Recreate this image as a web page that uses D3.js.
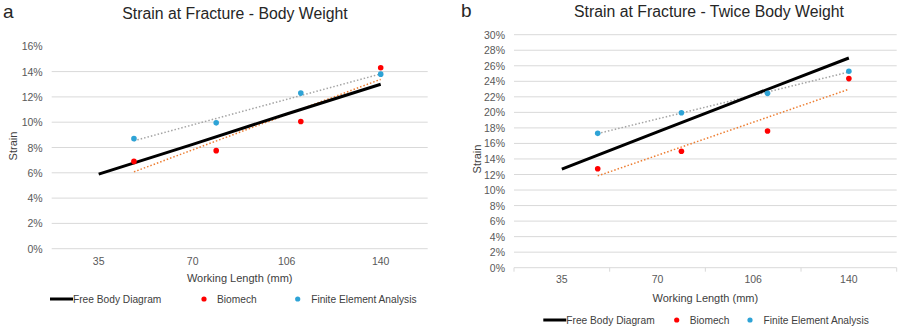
<!DOCTYPE html>
<html>
<head>
<meta charset="utf-8">
<script src="https://cdn.jsdelivr.net/npm/d3@7"></script>
<style>
  body { margin: 0; background: #fff; }
  svg { font-family: "Liberation Sans", Arial, sans-serif; }
  .tick-label { fill: #595959; font-size: 10.5px; }
  .grid { stroke: #d9d9d9; stroke-width: 1; }
  .title { fill: #262626; font-size: 15.8px; }
  .panel { fill: #262626; font-size: 19px; }
  .axis-title { fill: #404040; font-size: 11px; }
  .legend-text { fill: #404040; font-size: 10.2px; }
</style>
</head>
<body>
<div id="plot"></div>
<script>
const CANVAS_WIDTH  = 900;
const CANVAS_HEIGHT = 327;

// categories on the x axis (working length, mm)
const categories = ["35", "70", "106", "140"];
const lengths    = [35, 70, 106, 140];

// panel a: body weight (strain, %)
const fbdA     = [5.9, 8.25, 10.65, 13.0];
const biomechA = [6.9, 7.75, 10.05, 14.3];
const feaA     = [8.7, 9.95, 12.3, 13.8];
const yTicksA  = [0, 2, 4, 6, 8, 10, 12, 14, 16];

// panel b: twice body weight (strain, %)
const fbdB     = [12.7, 17.5, 22.25, 27.0];
const biomechB = [12.75, 15.0, 17.6, 24.35];
const feaB     = [17.3, 19.95, 22.45, 25.3];
const yTicksB  = [0, 2, 4, 6, 8, 10, 12, 14, 16, 18, 20, 22, 24, 26, 28, 30];

const LENGTH_MAX = 160;   // hidden secondary x axis of the scatter series

const RED  = "#ff0000";
const BLUE = "#2ea3d6";
const TREND_ORANGE = "#ed7d31";
const TREND_GRAY   = "#a5a5a5";

var svg = d3.select("#plot")
            .append("svg")
            .attr("width", CANVAS_WIDTH)
            .attr("height", CANVAS_HEIGHT);

// least squares fit, like the spreadsheet trendline
function linearFit(xs, ys) {
    var mx = d3.mean(xs), my = d3.mean(ys);
    var sxy = d3.sum(xs, (x, i) => (x - mx) * (ys[i] - my));
    var sxx = d3.sum(xs, x => (x - mx) * (x - mx));
    var slope = sxy / sxx;
    return x => my + slope * (x - mx);
}

function drawPanel(cfg) {
    var g = svg.append("g");

    var xBand = d3.scaleBand()
                  .domain(categories)
                  .range([cfg.left, cfg.right])
                  .padding(0);
    var xLin = d3.scaleLinear()
                 .domain([0, LENGTH_MAX])
                 .range([cfg.left, cfg.right]);
    var y = d3.scaleLinear()
              .domain([0, d3.max(cfg.yTicks)])
              .range([cfg.bottom, cfg.top]);
    var xc = c => xBand(c) + xBand.bandwidth() / 2;

    // gridlines
    cfg.yTicks.forEach(function(t) {
        if (t == d3.max(cfg.yTicks) && !cfg.topGrid) return;
        g.append("line")
         .attr("class", "grid")
         .attr("x1", cfg.left).attr("x2", cfg.right)
         .attr("y1", y(t)).attr("y2", y(t));
    });

    // y tick labels
    g.selectAll(".ylab")
     .data(cfg.yTicks)
     .enter()
     .append("text")
     .attr("class", "tick-label")
     .attr("text-anchor", "end")
     .attr("x", cfg.left - 9)
     .attr("y", d => y(d) + 4)
     .text(d => d + "%");

    // x axis ticks (only panel b shows them)
    if (cfg.xTicks) {
        var edges = categories.map(c => xBand(c)).concat([cfg.right]);
        edges.forEach(function(e) {
            g.append("line")
             .attr("class", "grid")
             .attr("x1", e).attr("x2", e)
             .attr("y1", cfg.bottom).attr("y2", cfg.bottom + 4);
        });
    }

    // x tick labels
    g.selectAll(".xlab")
     .data(categories)
     .enter()
     .append("text")
     .attr("class", "tick-label")
     .attr("text-anchor", "middle")
     .attr("x", d => xc(d))
     .attr("y", cfg.xLabelY)
     .text(d => d);

    // axis titles
    g.append("text")
     .attr("class", "axis-title")
     .attr("text-anchor", "middle")
     .attr("x", (cfg.left + cfg.right) / 2)
     .attr("y", cfg.xTitleY)
     .text("Working Length (mm)");
    g.append("text")
     .attr("class", "axis-title")
     .attr("text-anchor", "middle")
     .attr("transform", "translate(" + cfg.yTitleX + "," + cfg.yTitleY + ") rotate(-90)")
     .text("Strain");

    // titles
    g.append("text")
     .attr("class", "title")
     .attr("text-anchor", "middle")
     .attr("x", cfg.titleX)
     .attr("y", cfg.titleY)
     .text(cfg.title);
    g.append("text")
     .attr("class", "panel")
     .attr("x", cfg.panelX)
     .attr("y", cfg.panelY)
     .text(cfg.panel);

    // trendlines
    var fitB = linearFit(lengths, cfg.biomech);
    var fitF = linearFit(lengths, cfg.fea);
    var ends = [d3.min(lengths), d3.max(lengths)];
    var trendLine = d3.line().x(d => xLin(d[0])).y(d => y(d[1]));
    g.append("path")
     .attr("d", trendLine(ends.map(x => [x, fitF(x)])))
     .attr("fill", "none")
     .attr("stroke", TREND_GRAY)
     .attr("stroke-width", 1.5)
     .attr("stroke-dasharray", "1.5,2");
    g.append("path")
     .attr("d", trendLine(ends.map(x => [x, fitB(x)])))
     .attr("fill", "none")
     .attr("stroke", TREND_ORANGE)
     .attr("stroke-width", 1.5)
     .attr("stroke-dasharray", "1.5,2");

    // free body diagram line
    var fbdLine = d3.line().x((d, i) => xc(categories[i])).y(d => y(d));
    g.append("path")
     .attr("d", fbdLine(cfg.fbd))
     .attr("fill", "none")
     .attr("stroke", "#000")
     .attr("stroke-width", 3);

    // scatter points
    g.selectAll(".pt-b")
     .data(cfg.biomech)
     .enter()
     .append("circle")
     .attr("cx", (d, i) => xLin(lengths[i]))
     .attr("cy", d => y(d))
     .attr("r", 2.8)
     .attr("fill", RED);
    g.selectAll(".pt-f")
     .data(cfg.fea)
     .enter()
     .append("circle")
     .attr("cx", (d, i) => xLin(lengths[i]))
     .attr("cy", d => y(d))
     .attr("r", 2.8)
     .attr("fill", BLUE);

    // legend
    var ly = cfg.legendY;
    g.append("line")
     .attr("x1", cfg.legendX[0]).attr("x2", cfg.legendX[0] + 23)
     .attr("y1", ly).attr("y2", ly)
     .attr("stroke", "#000").attr("stroke-width", 3);
    g.append("text")
     .attr("class", "legend-text")
     .attr("x", cfg.legendX[0] + 23)
     .attr("y", ly + 4)
     .text("Free Body Diagram");
    g.append("circle")
     .attr("cx", cfg.legendX[1]).attr("cy", ly)
     .attr("r", 2.6).attr("fill", RED);
    g.append("text")
     .attr("class", "legend-text")
     .attr("x", cfg.legendX[1] + 13)
     .attr("y", ly + 4)
     .text("Biomech");
    g.append("circle")
     .attr("cx", cfg.legendX[2]).attr("cy", ly)
     .attr("r", 2.6).attr("fill", BLUE);
    g.append("text")
     .attr("class", "legend-text")
     .attr("x", cfg.legendX[2] + 13.5)
     .attr("y", ly + 4)
     .text("Finite Element Analysis");
}

drawPanel({
    panel: "a", panelX: 3, panelY: 18,
    title: "Strain at Fracture - Body Weight", titleX: 235, titleY: 19,
    left: 51.7, right: 427.7, top: 46.3, bottom: 248.7,
    yTicks: yTicksA, topGrid: false, xTicks: false,
    xLabelY: 265, xTitleY: 282, yTitleX: 17, yTitleY: 146,
    legendY: 299, legendX: [50, 204, 297.7],
    fbd: fbdA, biomech: biomechA, fea: feaA
});

drawPanel({
    panel: "b", panelX: 461, panelY: 17,
    title: "Strain at Fracture - Twice Body Weight", titleX: 709, titleY: 17,
    left: 514, right: 896.7, top: 34.7, bottom: 267.7,
    yTicks: yTicksB, topGrid: true, xTicks: true,
    xLabelY: 283, xTitleY: 302, yTitleX: 481, yTitleY: 159,
    legendY: 320, legendX: [543.3, 676.7, 750],
    fbd: fbdB, biomech: biomechB, fea: feaB
});
</script>
</body>
</html>
